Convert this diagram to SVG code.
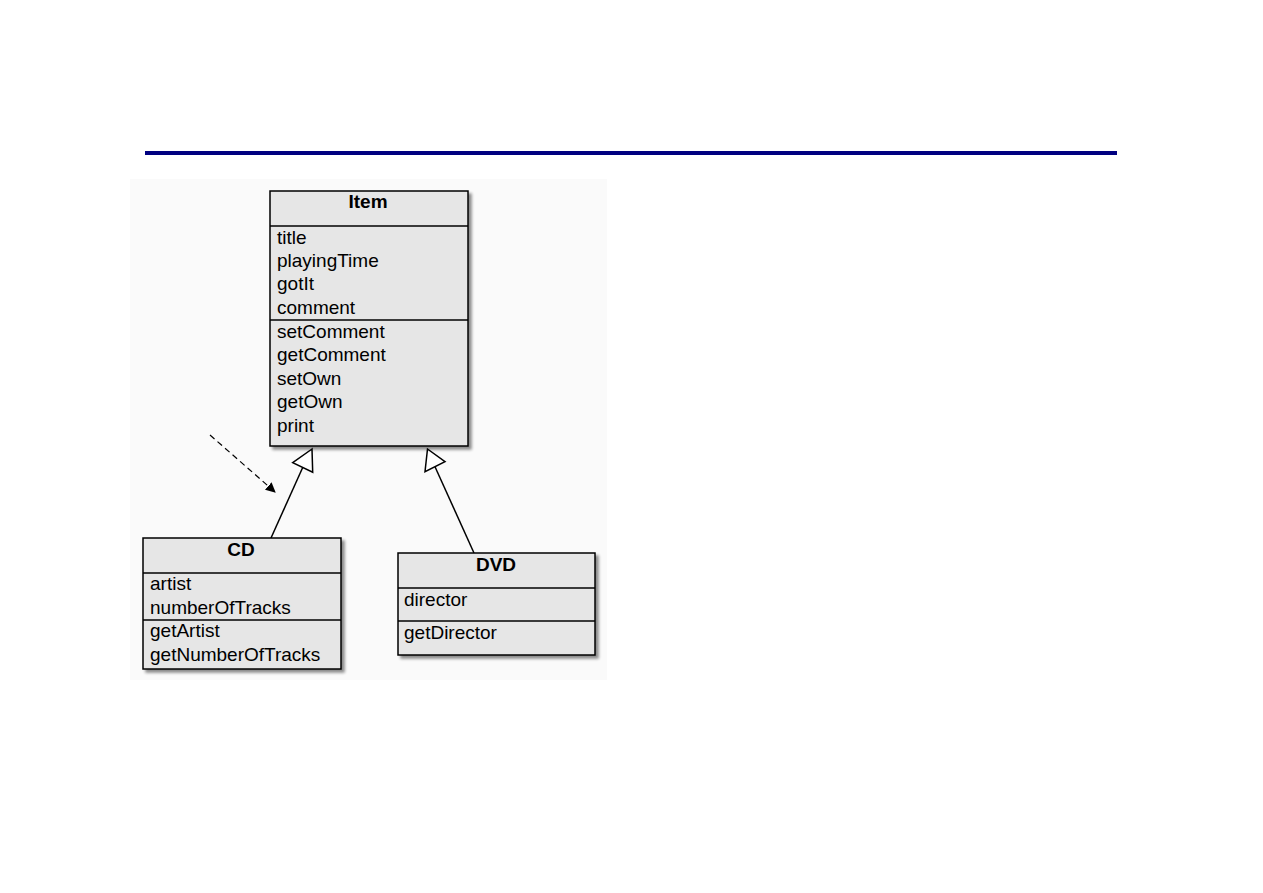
<svg xmlns="http://www.w3.org/2000/svg" width="1263" height="893" viewBox="0 0 1263 893">
<defs>
<filter id="sh" x="-10%" y="-10%" width="130%" height="130%">
<feGaussianBlur in="SourceAlpha" stdDeviation="1.5"/>
<feOffset dx="3" dy="3" result="b"/>
<feComponentTransfer><feFuncA type="linear" slope="0.45"/></feComponentTransfer>
<feMerge><feMergeNode/><feMergeNode in="SourceGraphic"/></feMerge>
</filter>
<marker id="ah" viewBox="0 0 10 10" refX="9" refY="5" markerWidth="10" markerHeight="10" markerUnits="userSpaceOnUse" orient="auto">
<path d="M0,0 L10,5 L0,10 z" fill="#000"/>
</marker>
</defs>
<style>
.box{fill:#e6e6e6;stroke:#000;stroke-width:1.5}
.sep{stroke:#000;stroke-width:1.3}
.t{font-family:"Liberation Sans",Arial,sans-serif;font-size:19px;fill:#000}
.h{font-family:"Liberation Sans",Arial,sans-serif;font-size:19px;font-weight:bold;fill:#000;text-anchor:middle}
.ln{stroke:#000;stroke-width:1.5;fill:none}
.tri{fill:#fff;stroke:#000;stroke-width:1.5}
</style>
<rect width="1263" height="893" fill="#fff"/>
<rect x="145" y="151" width="972" height="4" fill="#000080"/>
<rect x="130" y="179" width="477" height="501" fill="#fafafa"/>
<g id="connectors">
<line class="ln" x1="271" y1="538" x2="302.7" y2="467.5"/>
<polygon class="tri" points="312,449 292.7,462.7 312.7,472.3"/>
<line class="ln" x1="474" y1="553" x2="435" y2="466.7"/>
<polygon class="tri" points="427.5,449 425,471.7 445,461.7"/>
<line x1="210" y1="435" x2="275" y2="492" stroke="#000" stroke-width="1.2" stroke-dasharray="6,4" marker-end="url(#ah)"/>
</g>
<g id="Item">
<rect class="box" x="270" y="191" width="198" height="255" filter="url(#sh)"/>
<line class="sep" x1="270" y1="226" x2="468" y2="226"/>
<line class="sep" x1="270" y1="320" x2="468" y2="320"/>
<text class="h" x="368" y="208">Item</text>
<text class="t" x="277" y="244">title</text>
<text class="t" x="277" y="267">playingTime</text>
<text class="t" x="277" y="290">gotIt</text>
<text class="t" x="277" y="314">comment</text>
<text class="t" x="277" y="338">setComment</text>
<text class="t" x="277" y="361">getComment</text>
<text class="t" x="277" y="385">setOwn</text>
<text class="t" x="277" y="408">getOwn</text>
<text class="t" x="277" y="432">print</text>
</g>
<g id="CD">
<rect class="box" x="143" y="538" width="198" height="131" filter="url(#sh)"/>
<line class="sep" x1="143" y1="573" x2="341" y2="573"/>
<line class="sep" x1="143" y1="620" x2="341" y2="620"/>
<text class="h" x="241" y="556">CD</text>
<text class="t" x="150" y="590">artist</text>
<text class="t" x="150" y="614">numberOfTracks</text>
<text class="t" x="150" y="637">getArtist</text>
<text class="t" x="150" y="661">getNumberOfTracks</text>
</g>
<g id="DVD">
<rect class="box" x="398" y="553" width="197" height="102" filter="url(#sh)"/>
<line class="sep" x1="398" y1="588" x2="595" y2="588"/>
<line class="sep" x1="398" y1="621" x2="595" y2="621"/>
<text class="h" x="496" y="571">DVD</text>
<text class="t" x="404" y="606">director</text>
<text class="t" x="404" y="639">getDirector</text>
</g>
</svg>
